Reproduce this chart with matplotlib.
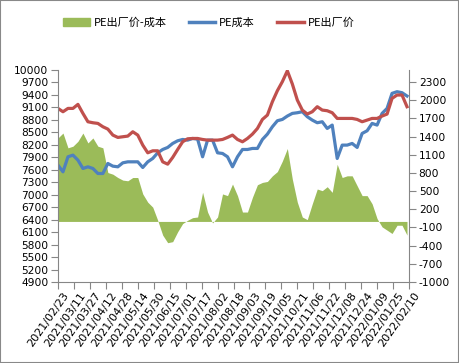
import matplotlib
matplotlib.use("Agg")
import matplotlib.pyplot as plt
import matplotlib.dates as mdates
from matplotlib.lines import Line2D
from matplotlib.patches import Patch, Rectangle
from matplotlib.transforms import ScaledTranslation
import pandas as pd

plt.rcParams['axes.unicode_minus'] = False
plt.rcParams['font.family'] = ['DejaVu Sans']

# data, every 5 days from 2021/02/23
dates = pd.date_range("2021-02-23", periods=71, freq="5D")

price = [9076, 8996, 9076, 9076, 9173, 8956, 8755, 8731, 8715, 8635,
         8578, 8434, 8378, 8394, 8410, 8514, 8434, 8193, 8008, 8056,
         8056, 7791, 7735, 7896, 8088, 8273, 8345, 8353, 8353, 8329,
         8313, 8313, 8313, 8329, 8378, 8434, 8329, 8273, 8353, 8458,
         8594, 8811, 8916, 9237, 9502, 9719, 9980, 9663, 9277, 9036,
         8940, 8996, 9117, 9036, 9020, 8972, 8835, 8835, 8835, 8835,
         8811, 8755, 8795, 8835, 8835, 8892, 8940, 9317, 9398, 9398,
         9117]

cost = [7711, 7550, 7912, 7952, 7831, 7631, 7671, 7631, 7510, 7510,
        7751, 7687, 7671, 7767, 7791, 7791, 7791, 7655, 7791, 7872,
        8008, 8088, 8137, 8233, 8297, 8329, 8313, 8353, 8337, 7912,
        8313, 8313, 8008, 7992, 7912, 7671, 7912, 8088, 8088, 8113,
        8113, 8329, 8458, 8635, 8779, 8811, 8892, 8956, 8972, 8996,
        8876, 8795, 8731, 8755, 8594, 8675, 7872, 8193, 8193, 8233,
        8137, 8474, 8538, 8715, 8675, 8956, 9076, 9438, 9478, 9454,
        9374]

spread = [1378, 1459, 1215, 1242, 1323, 1459, 1296, 1378, 1242, 1215,
          807, 780, 725, 682, 671, 725, 725, 454, 318, 236,
          19, -226, -351, -334, -171, -35, 19, 62, 73, 482,
          155, -25, 73, 454, 426, 617, 426, 155, 155, 399,
          606, 644, 660, 753, 823, 997, 1204, 698, 318, 73,
          30, 291, 535, 508, 573, 480, 943, 725, 753, 753,
          589, 426, 426, 291, 46, -90, -144, -199, -63, -63,
          -226]

tick_dates = pd.date_range("2021-02-23", "2022-02-10", freq="16D")
left_ticks = list(range(4900, 10001, 300))
right_ticks = list(range(-1000, 2301, 300))

green = '#9BBB59'
blue = '#4F81BD'
red = '#C0504D'
grey = '#868686'

fig = plt.figure(figsize=(4.59, 3.63), dpi=100)
ax = fig.add_axes([58 / 459, 1 - 282 / 363, (409 - 58) / 459, (282 - 70) / 363])
ax2 = ax.twinx()
ax.set_zorder(ax2.get_zorder() + 1)
ax.patch.set_visible(False)

ax2.fill_between(dates, 0, spread, color=green, linewidth=0)
ax.plot(dates, cost, color=blue, lw=2.3, solid_joinstyle='round')
ax.plot(dates, price, color=red, lw=2.3, solid_joinstyle='round')

ax.set_xlim(tick_dates[0], tick_dates[-1])
ax.set_ylim(4900, 10000)
ax.set_yticks(left_ticks)
ax2.set_ylim(-1000, 2500)
ax2.set_yticks(right_ticks)

ax.set_xticks(tick_dates)
ax.xaxis.set_major_formatter(mdates.DateFormatter('%Y/%m/%d'))

for s in ['top', 'right']:
    ax.spines[s].set_visible(False)
for s in ['top', 'left', 'bottom']:
    ax2.spines[s].set_visible(False)
ax.spines['left'].set_color(grey)
ax.spines['bottom'].set_color(grey)
ax2.spines['right'].set_color(grey)

ax.tick_params(axis='y', length=5, width=0.8, color=grey, pad=2, labelsize=7.7)
ax2.tick_params(axis='y', length=5, width=0.8, color=grey, pad=2, labelsize=7.7)
ax.tick_params(axis='x', length=5, width=0.8, color=grey, pad=3, labelsize=8)

offset = ScaledTranslation(0.09, 0, fig.dpi_scale_trans)
for lab in ax.get_xticklabels():
    lab.set_rotation(55)
    lab.set_ha('right')
    lab.set_va('center')
    lab.set_rotation_mode('anchor')
    lab.set_transform(lab.get_transform() + offset)

handles = [Patch(color=green), Line2D([], [], color=blue, lw=2.5),
           Line2D([], [], color=red, lw=2.5)]
fig.legend(handles, ['PE出厂价-成本', 'PE成本', 'PE出厂价'], ncol=3,
           loc='center', bbox_to_anchor=(0.455, 0.937), frameon=False,
           handlelength=2.4, handletextpad=0.35, columnspacing=2.0,
           prop={'family': ['Noto Sans CJK SC', 'DejaVu Sans'], 'size': 8})

fig.patches.append(Rectangle((0, 0), 1, 1, transform=fig.transFigure,
                             fill=False, edgecolor='#898989', linewidth=1.5))

fig.savefig('out.png', dpi=100)
